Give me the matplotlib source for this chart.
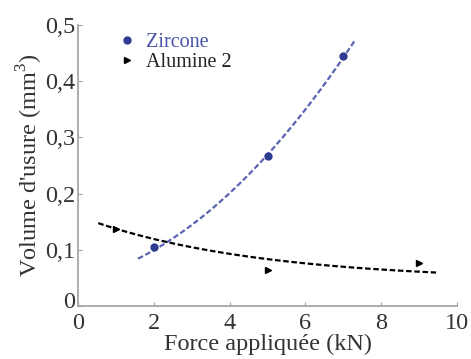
import numpy as np
import matplotlib
matplotlib.use('Agg')
import matplotlib.pyplot as plt
from matplotlib.transforms import ScaledTranslation

plt.rcParams['font.family'] = ['Liberation Serif', 'DejaVu Serif']
plt.rcParams['mathtext.fontset'] = 'custom'
plt.rcParams['mathtext.rm'] = 'Liberation Serif'

# measured points
zirconeForce = [2, 5, 7]
zirconeVolume = [0.105, 0.267, 0.445]
alumineForce = [1, 5, 9]
alumineVolume = [0.137, 0.064, 0.0765]

# trend lines
zirconeFit = [0.00593, 0.0152, 0.0452]   # quadratic a*x^2 + b*x + c
zirconeRange = [1.58, 7.31]
alumineFit = [0.045, 0.115, 0.22]        # c + a*exp(-b*x)
alumineRange = [0.53, 9.45]

xTicks = [0, 2, 4, 6, 8, 10]
yTicks = [0, 0.1, 0.2, 0.3, 0.4, 0.5]
yTickLabels = ['0', '0,1', '0,2', '0,3', '0,4', '0,5']

blue = '#2e3d92'
lineBlue = '#5b63b2'

fig = plt.figure(figsize=(4.71, 3.59), dpi=100)
ax = fig.add_axes([0.166, 0.148, 0.804, 0.782])

xz = np.linspace(zirconeRange[0], zirconeRange[1], 100)
ax.plot(xz, np.polyval(zirconeFit, xz), '--', color=lineBlue, lw=1.6, dashes=(2.5, 1.2))
xa = np.linspace(alumineRange[0], alumineRange[1], 100)
c, a, b = alumineFit
ax.plot(xa, c + a * np.exp(-b * xa), '--', color='black', lw=1.6, dashes=(2.5, 1.2))

ax.plot(zirconeForce, zirconeVolume, 'o', color=blue, ms=5, label='Zircone')
ax.plot(alumineForce, alumineVolume, '>', color='black', ms=5, label='Alumine 2')

ax.set_xlim(0, 10)
ax.set_ylim(0, 0.5)
ax.set_xticks(xTicks)
ax.set_yticks(yTicks)
ax.set_yticklabels(yTickLabels)

for side in ['top', 'right']:
    ax.spines[side].set_visible(False)
for side in ['left', 'bottom']:
    ax.spines[side].set_color('#a0a0a0')
    ax.spines[side].set_linewidth(1.2)
ax.tick_params(direction='in', length=3, color='#a0a0a0', labelsize=17.5,
               labelcolor='#333333')
ax.tick_params(axis='y', pad=2)
ax.tick_params(axis='x', pad=5)

# the y "0" sits a little above the axis in the original
fig.canvas.draw()
zeroLabel = ax.get_yticklabels()[0]
zeroLabel.set_transform(zeroLabel.get_transform() + ScaledTranslation(0, 4 / 72, fig.dpi_scale_trans))

ax.set_xlabel('Force appliquée (kN)', fontsize=17.5, color='#333333', labelpad=0)
ax.set_ylabel("Volume d'usure (mm$^3$)", fontsize=17.5, color='#333333', labelpad=0)

leg = ax.legend(loc='upper left', bbox_to_anchor=(0.095, 1.0), frameon=False,
                fontsize=14.5, handlelength=0.5, handletextpad=0.7,
                labelspacing=0.05, borderaxespad=0)
leg.get_texts()[0].set_color('#4a52a6')
leg.get_texts()[1].set_color('#222222')

fig.savefig('out.png', dpi=100)
